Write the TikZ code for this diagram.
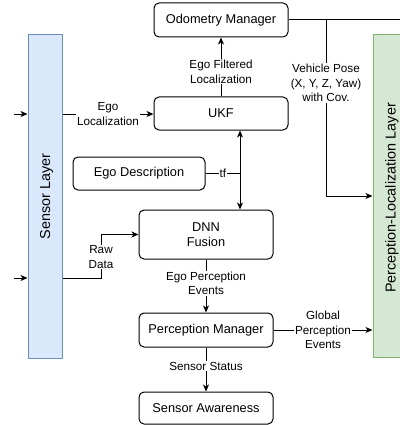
\documentclass[tikz,border=0pt]{standalone}
\usepackage{fontspec}
\setmainfont{Liberation Sans}
\usetikzlibrary{arrows.meta}
\definecolor{blueF}{HTML}{DAE8FC}
\definecolor{blueS}{HTML}{6C8EBF}
\definecolor{greenF}{HTML}{D5E8D4}
\definecolor{greenS}{HTML}{82B366}
\begin{document}
\begin{tikzpicture}[x=1pt,y=-1pt,
  box/.style={draw, rounded corners=5pt, line width=1pt, inner sep=0pt, align=center, font=\fontsize{12.8}{15}\selectfont},
  layer/.style={draw, line width=1pt, inner sep=0pt},
  layertext/.style={rotate=90, inner sep=0pt, font=\fontsize{14.4}{17}\selectfont},
  lbl/.style={fill=white, inner sep=1pt, align=center, font=\fontsize{11.7}{14.8}\selectfont},
  conn/.style={line width=1pt, -{Stealth[length=7pt,width=6pt,inset=2pt]}},
  plain/.style={line width=1pt}]
\useasboundingbox (0,0) rectangle (399,425);
% layers
\node[layer, fill=blueF, draw=blueS, minimum width=34, minimum height=323] (sensor) at (45,196.5) {};
\node[layertext] (sensorT) at (46.5,196.5) {Sensor Layer};
\node[layer, fill=greenF, draw=greenS, minimum width=36, minimum height=322] (percl) at (391,196) {};
\node[layertext] (perclT) at (392,198) {Perception-Localization Layer};
% boxes
\node[box, minimum width=134, minimum height=34] (odo) at (221,20) {Odometry Manager};
\node[box, minimum width=134, minimum height=33] (ukf) at (221,113.5) {UKF};
\node[box, minimum width=132, minimum height=33] (ego) at (139,173.5) {Ego Description};
\node[box, minimum width=134, minimum height=49] (dnn) at (206,234.5) {DNN\\Fusion};
\node[box, minimum width=134, minimum height=34] (pm) at (206,330) {Perception Manager};
\node[box, minimum width=134, minimum height=32] (sa) at (206,408) {Sensor Awareness};
% coordinates
\coordinate (in1) at (14,114);
\coordinate (in2) at (14,278);
\coordinate (tfj) at (240,173.5);
\coordinate (rdx) at (101,257);
\coordinate (vpx) at (326,83);
\coordinate (oend) at (410,20);
% inputs
\draw[conn] (in1) -- (sensor.west |- in1);
\draw[conn] (in2) -- (sensor.west |- in2);
% connectors
\draw[conn] (sensor.east |- in1) -- node[lbl] {Ego\\Localization} (ukf.west |- in1);
\draw[conn] (ukf.north) -- node[lbl, pos=0.42] {Ego Filtered\\Localization} (odo.south);
\draw[line width=1pt, {Stealth[length=7pt,width=6pt,inset=2pt]}-{Stealth[length=7pt,width=6pt,inset=2pt]}] (ukf.south -| tfj) -- (dnn.north -| tfj);
\draw[plain] (ego.east) -- node[lbl, inner sep=0.5pt] {tf} (tfj);
\draw[plain] (sensor.east |- in2) -| (rdx);
\draw[conn] (rdx) |- (dnn.west);
\node[lbl] (rdl) at (rdx) {Raw\\Data};
\draw[conn] (dnn.south) -- node[lbl, pos=0.45] {Ego Perception\\Events} (pm.north);
\draw[conn] (pm.south) -- node[lbl, pos=0.42] {Sensor Status} (sa.north);
\draw[conn] (pm.east) -- node[lbl] {Global\\Perception\\Events} (percl.west |- pm.east);
\draw[plain] (odo.east) -- (oend);
\draw[conn] (odo.east -| vpx) |- (percl.west);
\node[lbl] (vpl) at (vpx) {Vehicle Pose\\(X, Y, Z, Yaw)\\with Cov.};
\end{tikzpicture}
\end{document}
